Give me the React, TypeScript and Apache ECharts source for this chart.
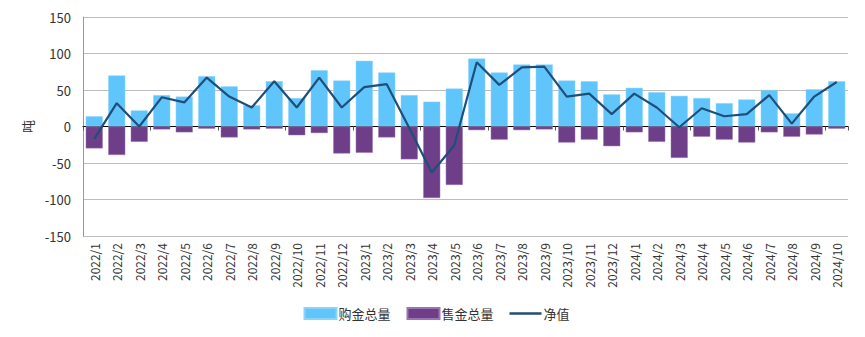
import React, { useEffect, useRef } from "react";
import * as echarts from "echarts";

const categories = [
  "2022/1","2022/2","2022/3","2022/4","2022/5","2022/6","2022/7","2022/8","2022/9","2022/10","2022/11","2022/12",
  "2023/1","2023/2","2023/3","2023/4","2023/5","2023/6","2023/7","2023/8","2023/9","2023/10","2023/11","2023/12",
  "2024/1","2024/2","2024/3","2024/4","2024/5","2024/6","2024/7","2024/8","2024/9","2024/10",
];
const buyTotal = [14,70,22,43,41,69,55,29,62,39,77,63,90,74,43,34,52,93,74,85,85,63,62,44,53,47,42,39,32,37,50,18,51,62];
const sellTotal = [-30,-39,-21,-4,-8,-3,-15,-4,-3,-12,-9,-37,-36,-15,-45,-98,-80,-5,-18,-5,-4,-22,-18,-27,-8,-21,-43,-14,-18,-22,-8,-14,-11,-3];
const netValue = [-17,32,0,40,33,67,41,26,62,26,67,26,54,58,-2,-63,-26,88,57,81,82,41,45,17,45,26,-1,25,14,17,43,4,41,61];
const yTicks = { min: -150, max: 150, interval: 50 };

const FONT = "'Noto Sans CJK SC', 'Open Sans', sans-serif";

export default function App() {
  const ref = useRef<HTMLDivElement>(null);
  useEffect(() => {
    if (!ref.current) return;
    const chart = echarts.init(ref.current, undefined, { renderer: "svg" });
    chart.setOption({
      animation: false,
      textStyle: { fontFamily: FONT },
      grid: { left: 75, right: 17, top: 9, bottom: 101, containLabel: false },
      legend: {
        bottom: 12,
        left: "center",
        itemWidth: 32,
        itemHeight: 11,
        itemGap: 16,
        symbolKeepAspect: true,
        textStyle: { fontSize: 13, color: "#333", fontFamily: FONT, padding: [0, 0, 0, -3] },
        data: [
          { name: "购金总量", icon: "rect" },
          { name: "售金总量", icon: "rect" },
          { name: "净值", icon: "path://M0,0H32V2.5H0Z" },
        ],
      },
      xAxis: [
        {
          type: "category",
          data: categories,
          axisLine: { onZero: true, lineStyle: { color: "#000", width: 1 } },
          axisTick: { show: true, alignWithLabel: false, length: 4, lineStyle: { color: "#555" } },
          axisLabel: { show: false },
          splitLine: { show: false },
        },
        {
          type: "category",
          data: categories,
          position: "bottom",
          axisLine: { show: false, onZero: false },
          axisTick: { show: false },
          axisLabel: { rotate: 90, fontSize: 12, color: "#333", margin: 7, interval: 0, fontFamily: FONT },
          splitLine: { show: false },
        },
      ],
      yAxis: {
        type: "value",
        min: yTicks.min,
        max: yTicks.max,
        interval: yTicks.interval,
        name: "吨",
        nameLocation: "middle",
        nameGap: 46,
        nameTextStyle: { fontSize: 13, color: "#333", fontFamily: FONT },
        axisLine: { show: true, lineStyle: { color: "#999" } },
        axisTick: { show: false },
        axisLabel: { fontSize: 13, color: "#333", margin: 12, fontFamily: FONT },
        splitLine: { show: true, lineStyle: { color: "#BDBDBD", width: 1 } },
      },
      series: [
        {
          name: "购金总量",
          type: "bar",
          xAxisIndex: 0,
          data: buyTotal,
          barWidth: 17,
          barGap: "-100%",
          itemStyle: { color: "#60C5FB", borderColor: "#8AD4FC", borderWidth: 0.5 },
        },
        {
          name: "售金总量",
          type: "bar",
          xAxisIndex: 0,
          data: sellTotal,
          barWidth: 17,
          barGap: "-100%",
          itemStyle: { color: "#6E3F88", borderColor: "#9A75B0", borderWidth: 0.5 },
        },
        {
          name: "净值",
          type: "line",
          xAxisIndex: 0,
          data: netValue,
          symbol: "none",
          lineStyle: { color: "#1F4E79", width: 2.2 },
          itemStyle: { color: "#1F4E79" },
          z: 5,
        },
      ],
    });
    return () => chart.dispose();
  }, []);
  return <div ref={ref} style={{ width: 857, height: 329 }} />;
}
